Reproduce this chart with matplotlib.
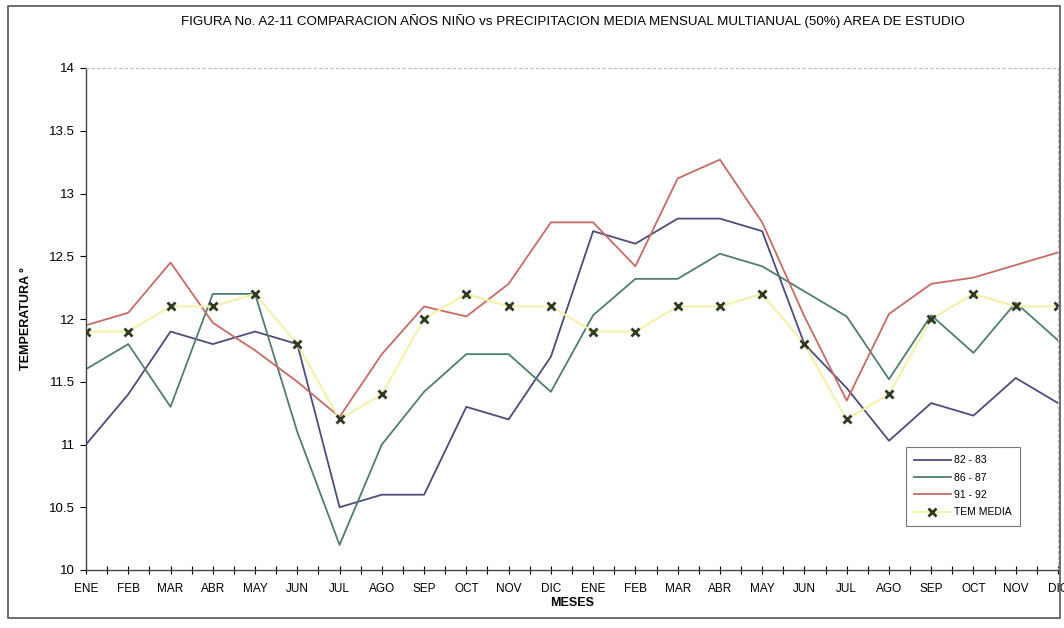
import matplotlib.pyplot as plt
from matplotlib.patches import Rectangle
from matplotlib.ticker import MultipleLocator

plt.rcParams['font.family'] = ['Liberation Sans', 'DejaVu Sans']

meses = ['ENE', 'FEB', 'MAR', 'ABR', 'MAY', 'JUN', 'JUL', 'AGO', 'SEP', 'OCT', 'NOV', 'DIC'] * 2
y_ticks = [10, 10.5, 11, 11.5, 12, 12.5, 13, 13.5, 14]
y_labels = ['10', '10.5', '11', '11.5', '12', '12.5', '13', '13.5', '14']

t_82_83 = [11.0, 11.4, 11.9, 11.8, 11.9, 11.8, 10.5, 10.6, 10.6, 11.3, 11.2, 11.7,
           12.7, 12.6, 12.8, 12.8, 12.7, 11.8, 11.45, 11.03, 11.33, 11.23, 11.53, 11.33]
t_86_87 = [11.6, 11.8, 11.3, 12.2, 12.2, 11.1, 10.2, 11.0, 11.42, 11.72, 11.72, 11.42,
           12.03, 12.32, 12.32, 12.52, 12.42, 12.22, 12.02, 11.52, 12.03, 11.73, 12.13, 11.83]
t_91_92 = [11.95, 12.05, 12.45, 11.97, 11.75, 11.5, 11.22, 11.72, 12.1, 12.02, 12.28, 12.77,
           12.77, 12.42, 13.12, 13.27, 12.77, 12.02, 11.35, 12.04, 12.28, 12.33, 12.43, 12.53]
tem_media = [11.9, 11.9, 12.1, 12.1, 12.2, 11.8, 11.2, 11.4, 12.0, 12.2, 12.1, 12.1,
             11.9, 11.9, 12.1, 12.1, 12.2, 11.8, 11.2, 11.4, 12.0, 12.2, 12.1, 12.1]

x = list(range(len(meses)))

fig = plt.figure(figsize=(10.64, 6.28), dpi=100)
ax = fig.add_axes([86 / 1064, 1 - 570 / 628, (1058 - 86) / 1064, (570 - 68) / 628])

ax.plot(x, t_82_83, color='#4b4c7c', lw=1.3, label='82 - 83')
ax.plot(x, t_86_87, color='#4f7f6c', lw=1.3, label='86 - 87')
ax.plot(x, t_91_92, color='#c86a66', lw=1.3, label='91 - 92')
ax.plot(x, tem_media, color='#f6f0a8', lw=1.5, marker='x', ms=6, mew=2,
        mec='#2e3a22', label='TEM MEDIA')

ax.set_xlim(0, 23)
ax.set_ylim(10, 14)
ax.set_xticks(x)
ax.set_xticklabels(meses, fontsize=8.5)
ax.xaxis.set_minor_locator(MultipleLocator(0.5))
ax.set_yticks(y_ticks)
ax.set_yticklabels(y_labels)
ax.tick_params(axis='x', which='both', direction='inout', length=6, width=0.8, pad=6)
ax.tick_params(axis='y', direction='out', length=4, width=0.8, labelsize=9.5, pad=4)

for side in ['left', 'bottom']:
    ax.spines[side].set_color('#444444')
    ax.spines[side].set_linewidth(1.0)
for side in ['top', 'right']:
    ax.spines[side].set_color('#bbbbbb')
    ax.spines[side].set_linestyle((0, (2, 3)))
    ax.spines[side].set_linewidth(0.8)

ax.set_xlabel('MESES', fontsize=9, fontweight='bold', labelpad=2)
ax.set_ylabel('TEMPERATURA °', fontsize=9, fontweight='bold', labelpad=12)

leg = ax.legend(loc='lower right', bbox_to_anchor=(0.966, 0.078), fontsize=7.5,
                frameon=True, fancybox=False, edgecolor='#555555',
                handlelength=3.5, handletextpad=0.3, labelspacing=0.7, borderpad=0.8)
leg.get_frame().set_linewidth(0.8)

fig.text(0.538, 0.966, 'FIGURA No. A2-11 COMPARACION AÑOS NIÑO vs PRECIPITACION MEDIA MENSUAL MULTIANUAL (50%) AREA DE ESTUDIO',
         ha='center', va='center', fontsize=9.6)

fig.patches.append(Rectangle((8 / 1064, 10 / 628), 1052 / 1064, 612 / 628,
                             transform=fig.transFigure, fill=False,
                             edgecolor='#555555', lw=1.2))

fig.savefig('out.png', dpi=100)
